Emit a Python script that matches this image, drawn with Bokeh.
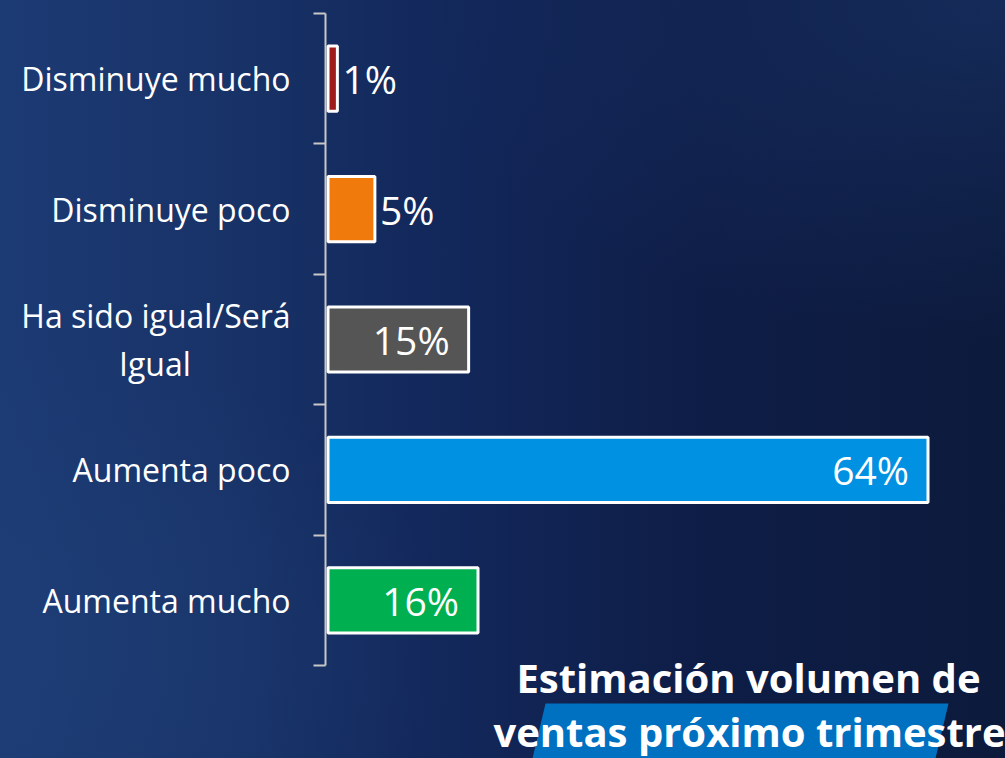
from bokeh.plotting import figure
from bokeh.models import ColumnDataSource, Range1d, FixedTicker, InlineStyleSheet
from bokeh.core.properties import value
from bokeh.embed import file_html
from bokeh.resources import INLINE

# ---- data ----
categories = ["Disminuye mucho", "Disminuye poco", "Ha sido igual/Será\nIgual",
              "Aumenta poco", "Aumenta mucho"]
percent = [1, 5, 15, 64, 16]
colors = ["#9E1C1C", "#F07A0C", "#555555", "#0091E2", "#00B050"]
title_lines = ["Estimación volumen de", "ventas próximo trimestre"]

# ---- layout constants (pixels) ----
W, H = 1005, 758
LEFT = 325          # frame left edge (axis position)
SX = 9.375          # px per percentage point
SY = 130.4          # px per category slot
TOP_TICK = 13       # pixel position of upper axis end

n = len(categories)
ypos = [n - i for i in range(n)]        # top category at n
x_start = -2.5 / SX
x_end = x_start + (W - LEFT) / SX
y_end = n + 0.5 + TOP_TICK / SY
y_start = y_end - H / SY

def px_x(px):
    return x_start + (px - LEFT) / SX

def px_y(py):
    return y_end - py / SY

def centered(label):
    # pad shorter lines with no-break spaces so wrapped labels look centred
    lines = label.split("\n")
    if len(lines) == 1:
        return label
    longest = max(len(s) for s in lines)
    out = []
    for s in lines:
        pad = int(round((longest - len(s)) * 0.95))
        out.append(s + "\u00a0" * pad)
    return "\n".join(out)

p = figure(width=W, height=H, output_backend="svg", toolbar_location=None,
           x_range=Range1d(x_start, x_end), y_range=Range1d(y_start, y_end),
           x_axis_location=None, min_border_left=LEFT, min_border_right=0,
           min_border_top=0, min_border_bottom=0)
p.outline_line_color = None
p.background_fill_alpha = 0
p.border_fill_alpha = 0
p.grid.visible = False
p.stylesheets = [InlineStyleSheet(css=""":host {
  background:
    radial-gradient(ellipse 60% 45% at 100% 0%, rgba(28,56,112,0.55), rgba(28,56,112,0) 100%),
    radial-gradient(ellipse 45% 40% at 0% 85%, rgba(32,64,120,0.55), rgba(32,64,120,0) 100%),
    linear-gradient(90deg, #1c3a74 0%, #183368 22%, #12275a 45%, #0e1d46 70%, #0c1a3c 100%);
}""")]

# bars
src = ColumnDataSource(dict(
    y=ypos, v=percent, color=colors,
    label=[f"{v}%" for v in percent],
    align=["right" if v >= 10 else "left" for v in percent],
    off=[-19 if v >= 10 else 5 for v in percent],
))
p.hbar(y="y", left=0, right="v", height=0.5, fill_color="color",
       line_color="white", line_width=3, source=src)
p.text(x="v", y="y", text="label", text_align="align", x_offset="off",
       text_baseline="middle", text_color="white", text_font=value("Open Sans"),
       text_font_size="39px", source=src)

# y axis: labels at category centres, ticks at boundaries
ax = p.yaxis[0]
ax.ticker = FixedTicker(ticks=ypos, minor_ticks=[k + 0.5 for k in range(n + 1)])
ax.major_label_overrides = {y: centered(c) for y, c in zip(ypos, categories)}
ax.bounds = (0.5, n + 0.5)
ax.axis_line_color = "#c8c8c8"
ax.axis_line_width = 2
ax.major_tick_line_color = None
ax.major_tick_in = 0
ax.major_tick_out = 0
ax.minor_tick_line_color = "#c8c8c8"
ax.minor_tick_line_width = 2
ax.minor_tick_in = 0
ax.minor_tick_out = 12
ax.major_label_standoff = 23
ax.major_label_text_color = "white"
ax.major_label_text_font = "Open Sans"
ax.major_label_text_font_size = "32px"
ax.major_label_text_line_height = 1.12

# title with slanted blue band
band_x = [px_x(v) for v in (545, 948, 935, 532)]
band_y = [px_y(v) for v in (703, 703, 758, 758)]
p.patch(band_x, band_y, fill_color="#0070C0", line_color=None)
p.text(x=[px_x(748), px_x(749)], y=[px_y(677), px_y(731)], text=title_lines,
       text_align="center", text_baseline="middle", text_color="white",
       text_font=value("Open Sans"), text_font_style="bold", text_font_size="40px")

open("out.html", "w").write(file_html(p, INLINE))
